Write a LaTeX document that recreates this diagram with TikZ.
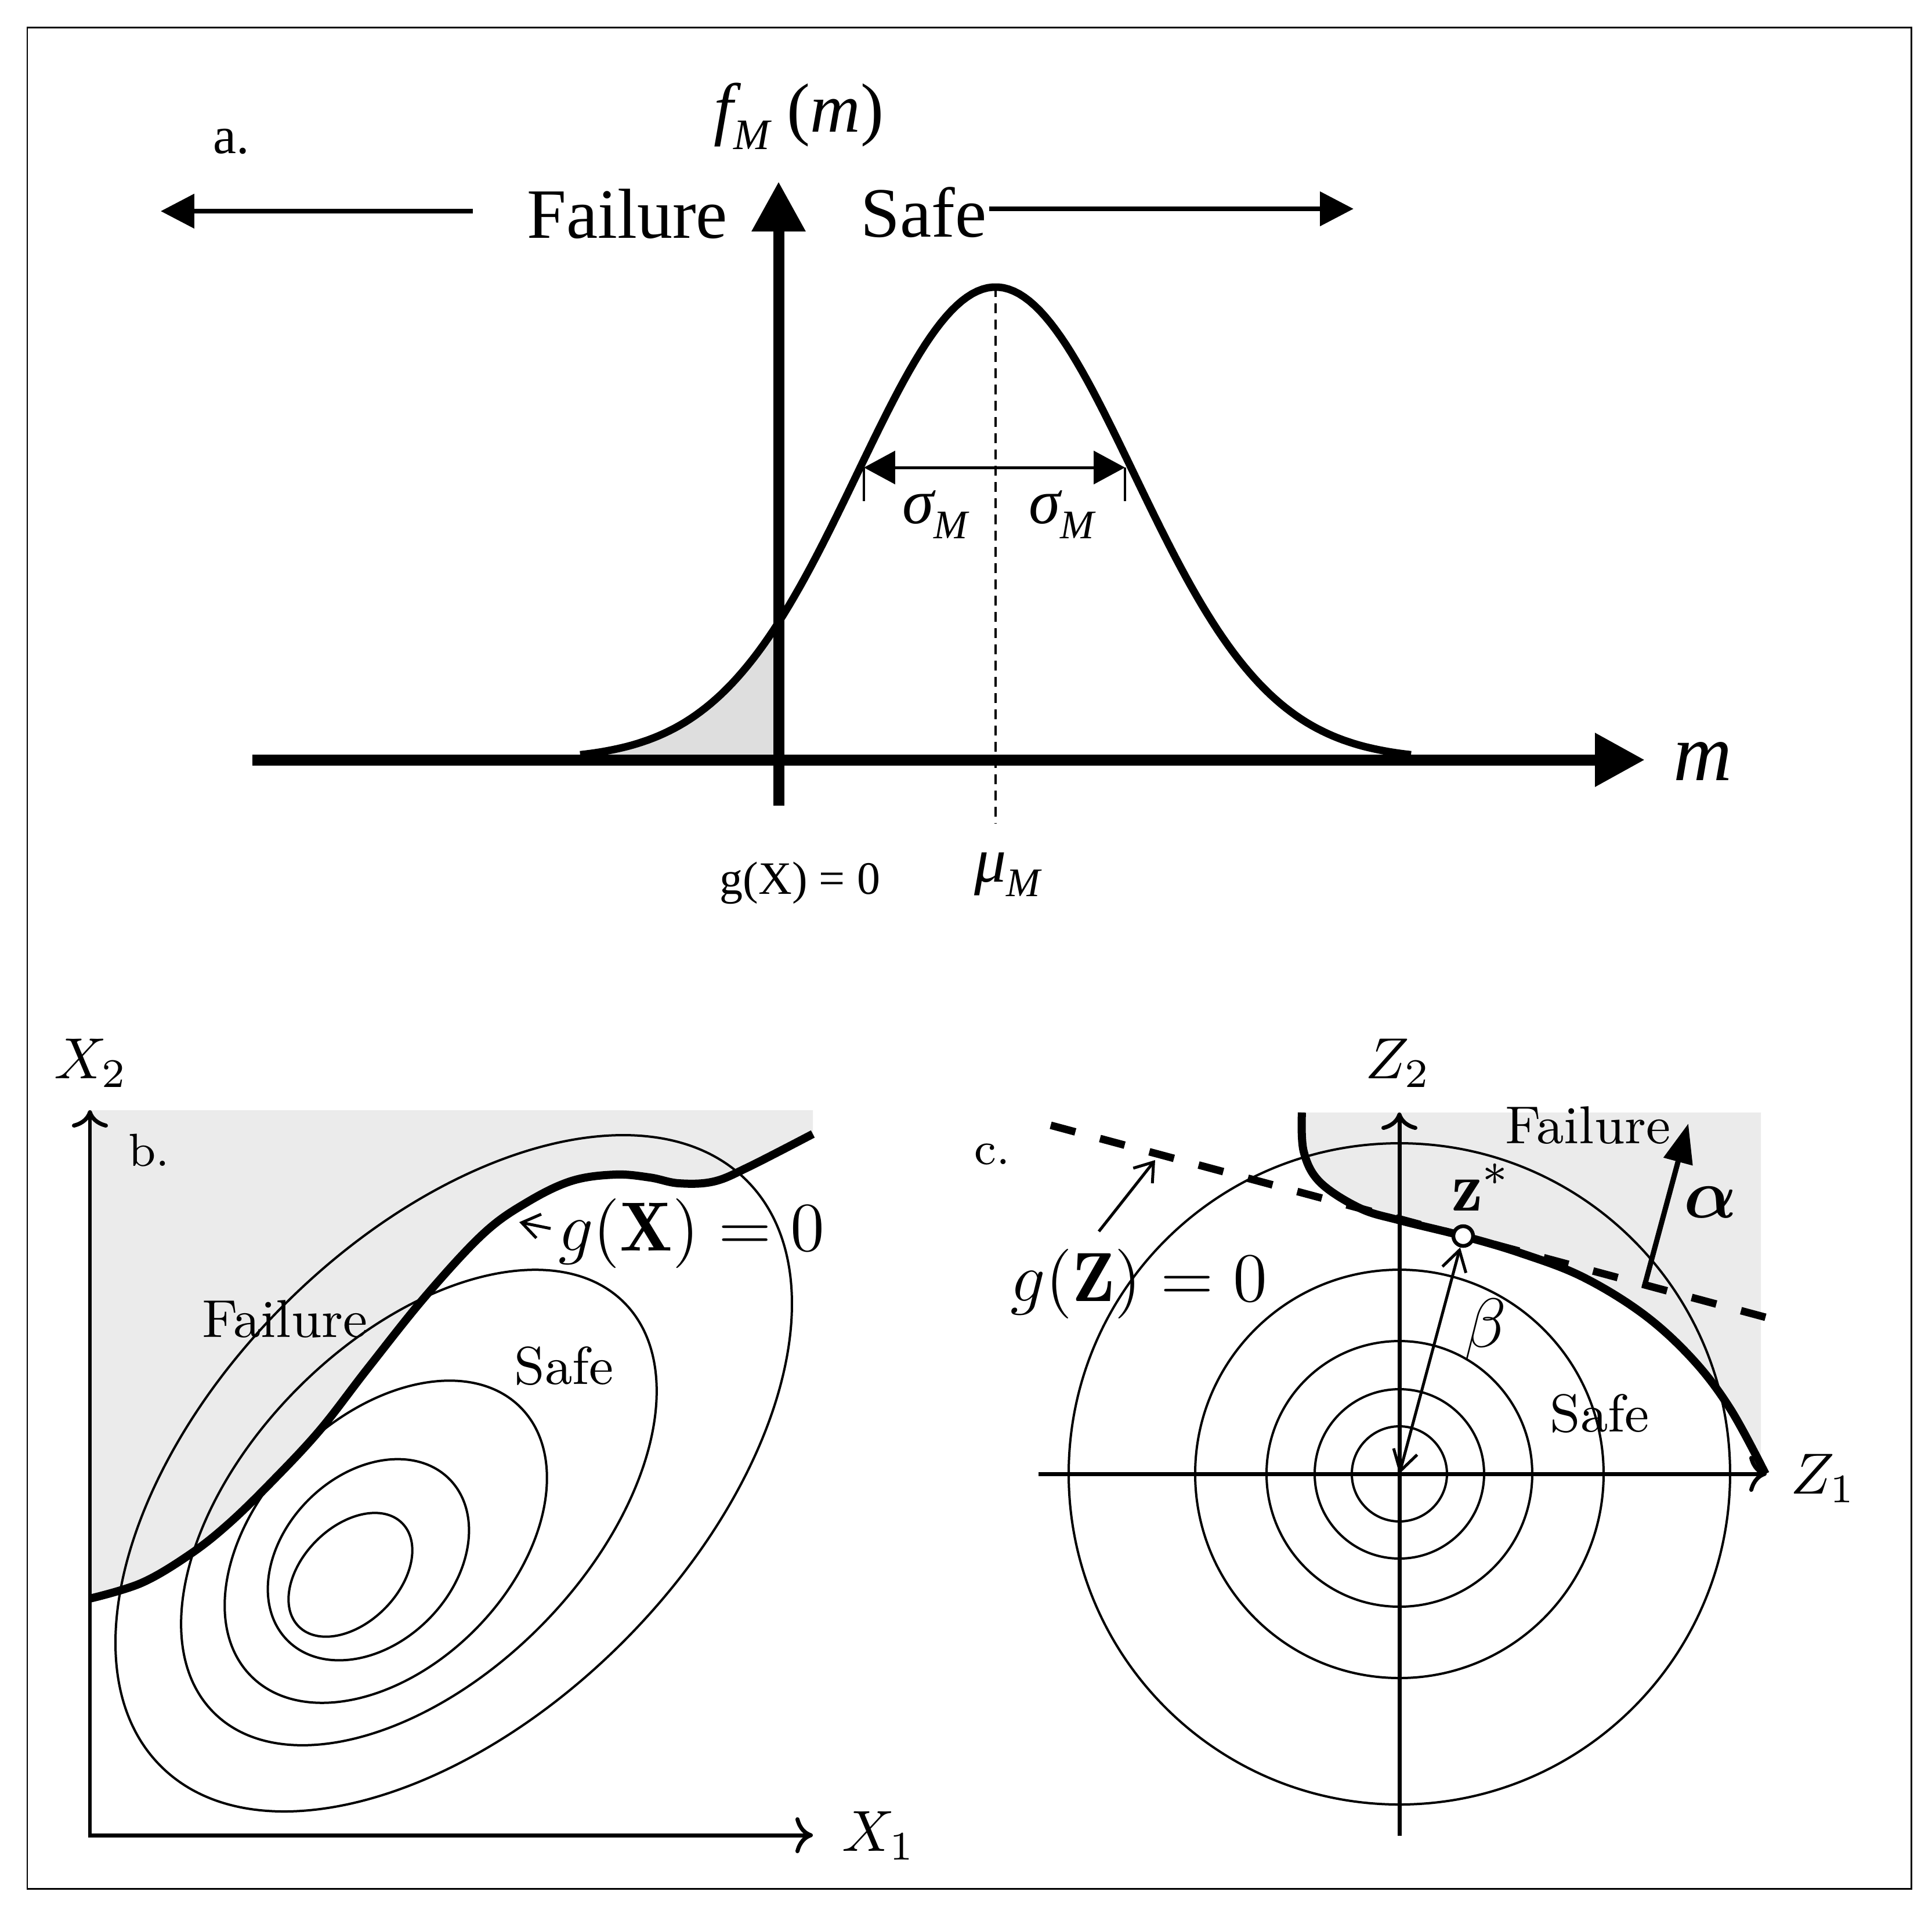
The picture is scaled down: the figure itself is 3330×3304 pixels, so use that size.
\documentclass[tikz,border=0pt]{standalone}
\usepackage{amsmath}
\usepackage{fontspec}
\newfontfamily\timesf{Liberation Serif}
\usetikzlibrary{arrows.meta}
\begin{document}
\begin{tikzpicture}[x=0.1pt,y=-0.1pt,
  frameline/.style={line width=0.3pt},
  bigaxis/.style={line width=1.9pt,-{Triangle[length=8.6pt,width=8.8pt]}},
  regionarrow/.style={line width=0.85pt,-{Triangle[length=5.8pt,width=5.8pt]}},
  density/.style={line width=1.3pt,line join=round},
  sigmaarrow/.style={line width=0.5pt,{Triangle[length=5.4pt,width=5.7pt]}-{Triangle[length=5.4pt,width=5.7pt]}},
  tickline/.style={line width=0.45pt},
  meanline/.style={line width=0.4pt,dash pattern=on 1.7pt off 1.1pt},
  thinaxes/.style={line width=0.7pt,{Computer Modern Rightarrow[length=3pt,width=6.2pt]}-{Computer Modern Rightarrow[length=3pt,width=6.2pt]}},
  thinaxis/.style={line width=0.7pt,-{Computer Modern Rightarrow[length=3pt,width=6.2pt]}},
  contour/.style={line width=0.4pt},
  limitstate/.style={line width=1.4pt,line join=round},
  tangent/.style={line width=1.3pt,dash pattern=on 4.4pt off 4.4pt},
  pointer/.style={line width=0.5pt,-{Straight Barb[length=3pt,width=4.2pt]}},
  betaarrow/.style={line width=0.5pt,{Straight Barb[length=3.5pt,width=4.2pt]}-{Straight Barb[length=3.5pt,width=4.2pt]}},
  alphaarrow/.style={line width=0.9pt,-{Triangle[length=6.8pt,width=5pt]}},
  fillA/.style={fill=black!13},
  fillB/.style={fill=black!8},
  txtA/.style={inner sep=0pt,font={\timesf\fontsize{12.2}{14}\selectfont}},
  smallA/.style={inner sep=0pt,font={\timesf\fontsize{9}{11}\selectfont}},
  greekA/.style={inner sep=0pt,font={\timesf\fontsize{11}{13}\selectfont}},
  eqA/.style={inner sep=0pt,font={\timesf\fontsize{8}{10}\selectfont}},
  funA/.style={inner sep=0pt,font={\timesf\fontsize{12}{14}\selectfont}},
  mA/.style={inner sep=0pt,font={\timesf\itshape\fontsize{14}{16}\selectfont}},
  axlab/.style={inner sep=0pt,font={\fontsize{10}{12}\selectfont}},
  panlab/.style={inner sep=0pt,font={\fontsize{8}{10}\selectfont}},
  regtxt/.style={inner sep=0pt,font={\fontsize{9.2}{11}\selectfont}},
  mathlab/.style={inner sep=0pt,font={\fontsize{12}{14}\selectfont}}
]
\useasboundingbox (0,0) rectangle (3330,3304);
\fill[white] (0,0) rectangle (3330,3304);
\draw[frameline] (47,47) rectangle (3294,3256);

% ---------------- panel a ----------------
\coordinate (aYbot) at (1342,1389);
\coordinate (aYtop) at (1342,313);
\coordinate (aXl) at (435,1310);
\coordinate (aXr) at (2835,1310);
\coordinate (muTop) at (1716,495);
\coordinate (muBot) at (1716,1419);
\coordinate (sL) at (1489,806);
\coordinate (sR) at (1939,806);
\coordinate (sLt) at (1489,864);
\coordinate (sRt) at (1939,864);
\coordinate (failStart) at (815,364);
\coordinate (failEnd) at (277,364);
\coordinate (safeStart) at (1705,360);
\coordinate (safeEnd) at (2333,360);

\fill[fillA] plot[domain=1000:1342,samples=60] (\x,{1310-815*exp(-0.5*((\x-1716)/238)^2)}) -- (1342,1310) -- cycle;
\draw[density] plot[domain=1000:2432,samples=160] (\x,{1310-815*exp(-0.5*((\x-1716)/238)^2)});
\draw[meanline] (muTop) -- (muBot);
\draw[bigaxis] (aYbot) -- (aYtop);
\draw[bigaxis] (aXl) -- (aXr);
\draw[sigmaarrow] (sL) -- (sR);
\draw[tickline] (sL) -- (sLt);
\draw[tickline] (sR) -- (sRt);
\draw[regionarrow] (failStart) -- (failEnd);
\draw[regionarrow] (safeStart) -- (safeEnd);

\node[smallA] (alab) at (399,244) {a.};
\node[funA] (fMlab) at (1377,200) {{\itshape f}\raisebox{-0.55ex}{\fontsize{7.5}{9}\selectfont\itshape M}\ ({\itshape m})};
\node[txtA,anchor=base] (failA) at (1081,410) {Failure};
\node[txtA,anchor=base] (safeA) at (1592,408) {Safe};
\node[mA,anchor=base] (mlab) at (2935,1345) {m};
\node[greekA] (sigL) at (1612,887) {{\itshape σ}\raisebox{-0.5ex}{\fontsize{7}{8}\selectfont\itshape M}};
\node[greekA] (sigR) at (1830,887) {{\itshape σ}\raisebox{-0.5ex}{\fontsize{7}{8}\selectfont\itshape M}};
\node[eqA,anchor=base] (gA) at (1379,1541) {g(X) = 0};
\node[greekA] (muA) at (1736,1508) {{\itshape μ}\raisebox{-0.5ex}{\fontsize{7}{8}\selectfont\itshape M}};

% ---------------- panel b ----------------
\coordinate (bO) at (155,3164);
\coordinate (bY) at (155,1914);
\coordinate (bX) at (1401,3164);
\coordinate (gXtail) at (949,2118);
\coordinate (gXtip) at (895,2107);

\fill[fillB] plot[smooth,tension=0.6] coordinates {(155,2756) (244,2729) (327,2680) (394,2627) (468,2555) (551,2466) (634,2359) (734,2234) (833,2127) (908,2073) (985,2036) (1060,2025) (1120,2030) (1170,2040) (1230,2037) (1290,2012) (1401,1955)} -- (1401,1914) -- (155,1914) -- cycle;

\draw[contour,rotate around={45:(782,2540)}] (782,2540) ellipse [x radius=714,y radius=412];
\draw[contour,rotate around={45:(722,2599)}] (722,2599) ellipse [x radius=500,y radius=293];
\draw[contour,rotate around={45:(665,2658)}] (665,2658) ellipse [x radius=328,y radius=216];
\draw[contour,rotate around={45:(635,2689)}] (635,2689) ellipse [x radius=197,y radius=146];
\draw[contour,rotate around={45:(604,2715)}] (604,2715) ellipse [x radius=126,y radius=83];

\draw[thinaxes] (bY) -- (bO) -- (bX);
\draw[limitstate] plot[smooth,tension=0.6] coordinates {(155,2756) (244,2729) (327,2680) (394,2627) (468,2555) (551,2466) (634,2359) (734,2234) (833,2127) (908,2073) (985,2036) (1060,2025) (1120,2030) (1170,2040) (1230,2037) (1290,2012) (1401,1955)};
\draw[pointer] (gXtail) -- (gXtip);

\node[axlab] (X2lab) at (157,1833) {$X_2$};
\node[axlab] (X1lab) at (1515,3165) {$X_1$};
\node[panlab] (blab) at (257,1983) {b.};
\node[regtxt,anchor=base] (failB) at (491,2305) {Failure};
\node[regtxt,anchor=base] (safeB) at (972,2386) {Safe};
\node[mathlab,anchor=base] (gXlab) at (1192,2156) {$g(\mathbf{X})=0$};

% ---------------- panel c ----------------
\coordinate (cO) at (2412,2541);
\coordinate (cY) at (2412,1918);
\coordinate (cYb) at (2412,3165);
\coordinate (cXl) at (1790,2541);
\coordinate (cX) at (3045,2541);
\coordinate (D1) at (1811,1940);
\coordinate (D2) at (3043,2271);
\coordinate (aFoot) at (2835,2215);
\coordinate (aTip) at (2910,1937);
\coordinate (aMark) at (2872,2225);
\coordinate (gZtail) at (1894,2123);
\coordinate (gZtip) at (1991,2000);

\fill[fillB] plot[smooth,tension=0.6] coordinates {(2244,1918) (2247,1985) (2275,2038) (2344,2083) (2413,2104) (2522,2131) (2620,2160) (2727,2201) (2833,2266) (2918,2344) (2983,2430) (3043,2541)} -- (3035,2541) -- (3035,1918) -- cycle;

\draw[contour] (cO) circle [radius=570];
\draw[contour] (cO) circle [radius=352];
\draw[contour] (cO) circle [radius=229];
\draw[contour] (cO) circle [radius=146];
\draw[contour] (cO) circle [radius=82];

\draw[thinaxis] (cYb) -- (cY);
\draw[thinaxis] (cXl) -- (cX);
\draw[tangent] (D1) -- (D2);
\draw[limitstate] plot[smooth,tension=0.6] coordinates {(2244,1918) (2247,1985) (2275,2038) (2344,2083) (2413,2104) (2522,2131) (2620,2160) (2727,2201) (2833,2266) (2918,2344) (2983,2430) (3043,2541)};
\node[circle,draw,fill=white,line width=0.65pt,inner sep=0pt,minimum size=3.4pt] (zstar) at (2522,2131) {};
\draw[betaarrow] (cO) -- (zstar);
\draw[alphaarrow] (aMark) -- (aFoot) -- (aTip);
\draw[pointer] (gZtail) -- (gZtip);

\node[axlab] (Z2lab) at (2410,1833) {$Z_2$};
\node[axlab] (Z1lab) at (3143,2549) {$Z_1$};
\node[panlab] (clab) at (1710,1990) {c.};
\node[regtxt,anchor=base] (failC) at (2737,1971) {Failure};
\node[regtxt,anchor=base] (safeC) at (2757,2468) {Safe};
\node[mathlab,anchor=base] (gZlab) at (1963,2243) {$g(\mathbf{Z})=0$};
\node[mathlab,anchor=base] (zslab) at (2553,2087) {$\mathbf{z}^{*}$};
\node[mathlab] (betalab) at (2560,2292) {$\beta$};
\node[mathlab] (alphalab) at (2948,2073) {$\boldsymbol{\alpha}$};
\end{tikzpicture}
\end{document}
